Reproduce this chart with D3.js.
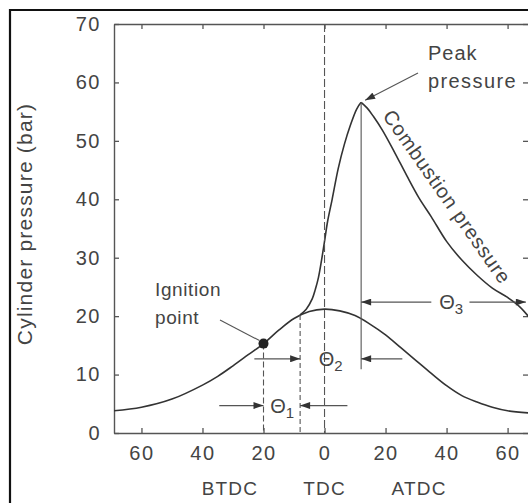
<!DOCTYPE html>
<html>
<head>
<meta charset="utf-8">
<script src="https://cdn.jsdelivr.net/npm/d3@7"></script>
<style>
  body { margin: 0; background: #fff; }
  svg { display: block; }
  text { font-family: "Liberation Sans", Arial, sans-serif; fill: #444; }
</style>
</head>
<body>
<svg id="chart" width="528" height="503"></svg>
<script>
// crank angle in degrees (negative = before TDC), cylinder pressure in bar
const motoringAngle = [-69, -60, -50, -40, -35, -30, -25, -20, -15, -10, -5, 0, 5, 10, 15, 20, 25, 30, 35, 40, 45, 50, 55, 60, 68];
const motoringPressure = [3.8, 4.4, 5.8, 8.2, 9.7, 11.5, 13.4, 15.3, 17.6, 19.6, 20.8, 21.2, 20.9, 20.1, 18.6, 16.8, 14.6, 12.4, 10.2, 8.1, 6.4, 5.3, 4.4, 3.8, 3.4];

const combustionAngle = [-8, -6, -4, -3, -2, -1, 0, 1, 2.5, 4.5, 6.5, 8.5, 10.5, 12, 14, 16, 19, 23, 27, 31, 35, 40, 45, 50, 55, 60, 64, 68];
const combustionPressure = [20.2, 21.2, 23.0, 24.6, 26.6, 29.5, 32.8, 36.2, 40, 45.3, 49.4, 52.7, 55.4, 56.6, 55.6, 54.2, 51.8, 48.0, 44.0, 40.2, 37.0, 32.8, 29.6, 27.0, 24.8, 23.2, 21.6, 19.2];

const xTicks = [-60, -40, -20, 0, 20, 40, 60];
const yTicks = [0, 10, 20, 30, 40, 50, 60, 70];
const phaseNames = ["BTDC", "TDC", "ATDC"];
const phaseAngles = [-31, 0, 31];

const ignitionAngle = -20;
const theta3End = 66; // right end of the theta-3 span

const svg = d3.select("#chart");
const W = 528, H = 503;

const x = d3.scaleLinear().domain([-69, 68]).range([114, 532]);
const y = d3.scaleLinear().domain([0, 70]).range([433, 24]);

const ink = "#333";
const gray = "#555";

svg.append("rect").attr("width", W).attr("height", H).attr("fill", "#fff");

// arrow head
svg.append("defs").append("marker")
    .attr("id", "arr")
    .attr("markerUnits", "userSpaceOnUse")
    .attr("viewBox", "0 0 10 7")
    .attr("refX", 10).attr("refY", 3.5)
    .attr("markerWidth", 11).attr("markerHeight", 7)
    .attr("orient", "auto")
    .append("path")
    .attr("d", "M0,0L10,3.5L0,7z")
    .attr("fill", ink);

// scanned page frame
svg.append("path")
    .attr("d", "M10,503V10H528")
    .attr("fill", "none")
    .attr("stroke", "#111")
    .attr("stroke-width", 2.2);

// axes
function styleAxis(g) {
    g.select(".domain").attr("stroke", gray).attr("stroke-width", 1.4);
    g.selectAll(".tick line").attr("stroke", gray).attr("stroke-width", 1.3);
    g.selectAll(".tick text")
        .attr("fill", "#444")
        .style("font-size", "20px")
        .style("letter-spacing", "1.5px");
}

svg.append("g")
    .attr("transform", "translate(" + x.range()[0] + ",0)")
    .call(d3.axisLeft(y).tickValues(yTicks).tickSize(-5).tickSizeOuter(0).tickPadding(13))
    .call(styleAxis);

svg.append("g")
    .attr("transform", "translate(0," + y(0) + ")")
    .call(d3.axisBottom(x).tickValues(xTicks).tickSize(-5).tickSizeOuter(0).tickPadding(13)
        .tickFormat(function (d) { return Math.abs(d); }))
    .call(styleAxis);

svg.append("g")
    .attr("transform", "translate(0," + y(70) + ")")
    .call(d3.axisTop(x).tickValues(xTicks).tickSize(-5).tickSizeOuter(0).tickFormat(""))
    .call(styleAxis);

svg.append("g")
    .attr("transform", "translate(529,0)")
    .call(d3.axisRight(y).tickValues(yTicks).tickSize(-6).tickSizeOuter(0).tickFormat(""))
    .call(styleAxis);

// axis titles
svg.append("text")
    .attr("transform", "translate(32," + 224 + ") rotate(-90)")
    .attr("text-anchor", "middle")
    .style("font-size", "21px")
    .style("letter-spacing", "1.2px")
    .text("Cylinder pressure (bar)");

svg.selectAll(".phase")
    .data(phaseNames)
    .enter().append("text")
    .attr("class", "phase")
    .attr("x", function (d, i) { return x(phaseAngles[i]); })
    .attr("y", 495)
    .attr("text-anchor", "middle")
    .style("font-size", "19px")
    .style("letter-spacing", "1.2px")
    .text(function (d) { return d; });

// curves
const line = d3.line()
    .x(function (d) { return x(d[0]); })
    .y(function (d) { return y(d[1]); })
    .curve(d3.curveCatmullRom.alpha(0.5));

function drawCurve(pts) {
    svg.append("path")
        .datum(pts)
        .attr("d", line)
        .attr("fill", "none")
        .attr("stroke", ink)
        .attr("stroke-width", 1.6)
        .attr("stroke-linejoin", "round");
}

// key points
const ignitionP = motoringPressure[motoringAngle.indexOf(ignitionAngle)];
const startAngle = combustionAngle[0];
const startP = combustionPressure[0];
const peakIdx = d3.maxIndex(combustionPressure);
const peakAngle = combustionAngle[peakIdx];
const peakP = combustionPressure[peakIdx];

const combustion = d3.zip(combustionAngle, combustionPressure);
drawCurve(d3.zip(motoringAngle, motoringPressure));
// rise and expansion drawn separately so the peak stays sharp
drawCurve(combustion.slice(0, peakIdx + 1));
drawCurve(combustion.slice(peakIdx));

function vline(a, p0, p1, dash) {
    svg.append("line")
        .attr("x1", x(a)).attr("x2", x(a))
        .attr("y1", y(p0)).attr("y2", y(p1))
        .attr("stroke", gray)
        .attr("stroke-width", 1.1)
        .attr("stroke-dasharray", dash);
}
vline(0, 70, 0, "8,3");
vline(ignitionAngle, ignitionP, 0, "6,3");
vline(startAngle, startP, 0, "5,3");
vline(peakAngle, peakP, 10.9, null);

// arrows (from, to, pressure level)
function arrow(a0, a1, p) {
    svg.append("line")
        .attr("x1", x(a0)).attr("x2", x(a1))
        .attr("y1", y(p)).attr("y2", y(p))
        .attr("stroke", gray)
        .attr("stroke-width", 1.2)
        .attr("marker-end", "url(#arr)");
}
arrow(-34.5, ignitionAngle, 4.7);
arrow(7.5, startAngle, 4.7);
arrow(-23, startAngle, 12.7);
arrow(25.5, peakAngle, 12.7);
arrow(35, peakAngle, 22.4);
arrow(47.5, theta3End, 22.4);

function theta(a, p, sub) {
    const t = svg.append("text")
        .attr("x", x(a)).attr("y", y(p) + 7)
        .attr("text-anchor", "middle")
        .style("font-size", "20px");
    t.append("tspan").text("\u0398");
    t.append("tspan").attr("dy", 5).style("font-size", "15px").text(sub);
}
theta(-13.9, 4.7, "1");
theta(2.0, 12.7, "2");
theta(41.5, 22.4, "3");

// ignition point marker and label
svg.append("circle")
    .attr("cx", x(ignitionAngle)).attr("cy", y(ignitionP))
    .attr("r", 5)
    .attr("fill", "#222");

svg.append("line")
    .attr("x1", 220).attr("y1", 320)
    .attr("x2", x(ignitionAngle) - 4).attr("y2", y(ignitionP) - 3)
    .attr("stroke", gray).attr("stroke-width", 1.1);

svg.append("text").attr("x", 155).attr("y", 296).style("font-size", "19px").style("letter-spacing", "0.6px").text("Ignition");
svg.append("text").attr("x", 155).attr("y", 324).style("font-size", "19px").style("letter-spacing", "0.6px").text("point");

// peak pressure label
svg.append("line")
    .attr("x1", 418).attr("y1", 73)
    .attr("x2", x(peakAngle) + 4).attr("y2", y(peakP) - 2)
    .attr("stroke", gray).attr("stroke-width", 1.1)
    .attr("marker-end", "url(#arr)");

svg.append("text").attr("x", 428).attr("y", 60).style("font-size", "20px").style("letter-spacing", "1px").text("Peak");
svg.append("text").attr("x", 428).attr("y", 88).style("font-size", "20px").style("letter-spacing", "1.4px").text("pressure");

svg.append("text")
    .attr("transform", "translate(382,116) rotate(55)")
    .style("font-size", "20px")
    .style("letter-spacing", "0.9px")
    .text("Combustion pressure");
</script>
</body>
</html>
